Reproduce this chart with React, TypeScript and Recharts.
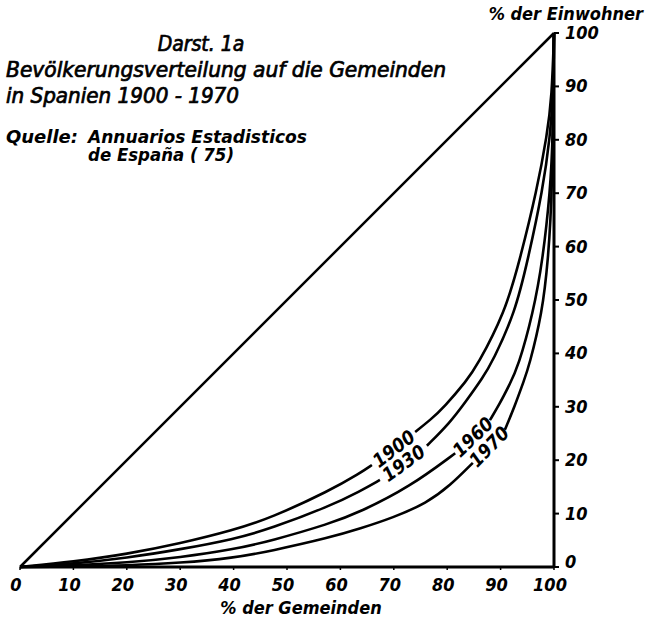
import React from 'react';
import { LineChart, Line, XAxis, YAxis, ReferenceDot } from 'recharts';

// ---------- data ----------
const xTicks = [0, 10, 20, 30, 40, 50, 60, 70, 80, 90, 100];
const yTicks = [0, 10, 20, 30, 40, 50, 60, 70, 80, 90, 100];

const equality: [number, number | null][] = [[0, 0], [100, 100]];

const curve1900: [number, number | null][] = [
  [0, 0], [10, 1.0], [20, 2.4], [30, 4.4], [40, 6.9], [47, 9.2], [58, 14.3], [63.7, 17.6], [65.9, 19.1],
  [70, null],
  [74, 25.3], [76.8, 27.5], [79.5, 30], [83.7, 35], [85.5, 37.5], [90.8, 47.6], [93.6, 57.5], [96.8, 70.6],
  [98.7, 80.9], [99.6, 88], [100, 100],
];
const curve1930: [number, number | null][] = [
  [0, 0], [10, 0.6], [20, 1.7], [30, 3.3], [40, 5.2], [47, 7.2], [58, 11.4], [63.7, 14.2], [67.4, 16.3],
  [72, null],
  [76.2, 22.7], [80.5, 27], [83.5, 31], [86.7, 35.5], [88.5, 38.5], [92.7, 47.6], [95.1, 57.5], [97.9, 70.6],
  [99.3, 80.9], [99.8, 88], [100, 100],
];
const curve1960: [number, number | null][] = [
  [0, 0], [10, 0.3], [20, 0.8], [30, 1.8], [40, 3.3], [47, 4.9], [58, 8.1], [63.7, 10.3], [73, 15.0], [81.5, 21.3],
  [85, null],
  [88, 27.5], [89.8, 30.5], [91.6, 34], [93.3, 37.5], [96.1, 47.6], [97.9, 57.5], [99.3, 70.6], [99.8, 80], [100, 100],
];
const curve1970: [number, number | null][] = [
  [0, 0], [10, 0.1], [20, 0.3], [30, 0.75], [40, 1.7], [47, 3.0], [58, 5.5], [63.7, 7.2], [69.8, 9.2], [76.2, 12.0],
  [80.5, 15.2], [84.8, 19.5],
  [88, null],
  [90.8, 25.7], [92.6, 30], [94.4, 35], [95.3, 37.5], [97.8, 47.6], [98.9, 57.5], [99.7, 70], [100, 100],
];

const seriesNames = ['1900', '1930', '1960', '1970'];
const seriesValues = [curve1900, curve1930, curve1960, curve1970];

const titleLines = [
  'Darst. 1a',
  'Bevölkerungsverteilung auf die Gemeinden',
  'in Spanien 1900 - 1970',
];
const sourceLabel = 'Quelle:';
const sourceLines = ['Annuarios Estadisticos', 'de España ( 75)'];
const xAxisTitle = '% der Gemeinden';
const yAxisTitle = '% der Einwohner';

// ---------- helpers ----------
const toPts = (a: [number, number | null][]) => a.map(([x, y]) => ({ x, y }));

const FONT = "'DejaVu Sans Condensed', 'DejaVu Sans', sans-serif";

// label placed in the middle of the gap left in each curve
function gapLabel(a: [number, number | null][]) {
  const i = a.findIndex((p) => p[1] === null);
  const p0 = a[i - 1];
  const p1 = a[i + 1];
  const x = (p0[0] + p1[0]) / 2;
  const y = ((p0[1] as number) + (p1[1] as number)) / 2;
  const angle = (Math.atan2((p1[1] as number) - (p0[1] as number), p1[0] - p0[0]) * 180) / Math.PI;
  return { x, y, angle };
}

const XTick = (p: any) => (
  <text
    x={p.x - 4}
    y={p.y}
    dy={18}
    textAnchor="middle"
    fontFamily={FONT}
    fontSize={18}
    fontStyle="italic"
    fontWeight="bold"
    fill="#000"
  >
    {p.payload.value}
  </text>
);

const YTick = (p: any) => (
  <text
    x={p.x + 2}
    y={p.y}
    dy={p.payload.value === 0 ? 1 : 6}
    textAnchor="start"
    fontFamily={FONT}
    fontSize={18}
    fontStyle="italic"
    fontWeight="bold"
    fill="#000"
  >
    {p.payload.value}
  </text>
);

const txt = {
  fontFamily: FONT,
  fontStyle: 'italic' as const,
  fill: '#000',
};

export default function App() {
  return (
    <div style={{ position: 'absolute', left: 0, top: 0, width: 646, height: 620, background: '#fff' }}>
      <LineChart width={646} height={620} margin={{ top: 33, left: 20, right: 32, bottom: 23 }}>
        <XAxis
          type="number"
          dataKey="x"
          domain={[0, 100]}
          ticks={xTicks}
          interval={0}
          height={30}
          axisLine={{ stroke: '#000', strokeWidth: 3 }}
          tickLine={{ stroke: '#000', strokeWidth: 1.5 }}
          tickSize={3}
          tickMargin={3}
          tick={<XTick />}
        />
        <YAxis
          type="number"
          dataKey="y"
          orientation="right"
          domain={[0, 100]}
          ticks={yTicks}
          interval={0}
          width={60}
          axisLine={{ stroke: '#000', strokeWidth: 3 }}
          tickLine={{ stroke: '#000', strokeWidth: 2 }}
          tickSize={5}
          tickMargin={4}
          tick={<YTick />}
        />
        <Line
          data={toPts(equality)}
          dataKey="y"
          type="linear"
          stroke="#000"
          strokeWidth={2.5}
          dot={false}
          isAnimationActive={false}
        />
        {seriesValues.map((s, i) => (
          <Line
            key={seriesNames[i]}
            name={seriesNames[i]}
            data={toPts(s)}
            dataKey="y"
            type="basis"
            stroke="#000"
            strokeWidth={2.6}
            dot={false}
            connectNulls={false}
            isAnimationActive={false}
          />
        ))}
        {seriesValues.map((s, i) => {
          const g = gapLabel(s);
          return (
            <ReferenceDot
              key={'lbl' + seriesNames[i]}
              x={g.x}
              y={g.y}
              r={0}
              shape={(p: any) => (
                <text
                  x={p.cx}
                  y={p.cy}
                  textAnchor="middle"
                  dominantBaseline="central"
                  transform={`rotate(${-g.angle} ${p.cx} ${p.cy})`}
                  fontFamily={FONT}
                  fontSize={19}
                  fontStyle="italic"
                  fontWeight="bold"
                  fill="#000"
                >
                  {seriesNames[i]}
                </text>
              )}
            />
          );
        })}
      </LineChart>
      <svg width={646} height={620} style={{ position: 'absolute', left: 0, top: 0, pointerEvents: 'none' }}>
        <text {...txt} x={201} y={51} fontSize={21} textAnchor="middle" stroke="#000" strokeWidth={0.7}>
          {titleLines[0]}
        </text>
        <text {...txt} x={6} y={77} fontSize={21} textLength={440} lengthAdjust="spacingAndGlyphs" stroke="#000" strokeWidth={0.7}>
          {titleLines[1]}
        </text>
        <text {...txt} x={6} y={103} fontSize={21} textLength={233} lengthAdjust="spacingAndGlyphs" stroke="#000" strokeWidth={0.7}>
          {titleLines[2]}
        </text>
        <text {...txt} x={6} y={143} fontSize={17} fontWeight="bold" textLength={72} lengthAdjust="spacingAndGlyphs">
          {sourceLabel}
        </text>
        <text {...txt} x={88} y={143} fontSize={17} fontWeight="bold" textLength={219} lengthAdjust="spacingAndGlyphs">
          {sourceLines[0]}
        </text>
        <text {...txt} x={88} y={161} fontSize={17} fontWeight="bold" textLength={146} lengthAdjust="spacingAndGlyphs">
          {sourceLines[1]}
        </text>
        <text {...txt} x={643} y={20} fontSize={18} fontWeight="bold" textAnchor="end">
          {yAxisTitle}
        </text>
        <text {...txt} x={301} y={614} fontSize={18} fontWeight="bold" textAnchor="middle">
          {xAxisTitle}
        </text>
      </svg>
    </div>
  );
}
